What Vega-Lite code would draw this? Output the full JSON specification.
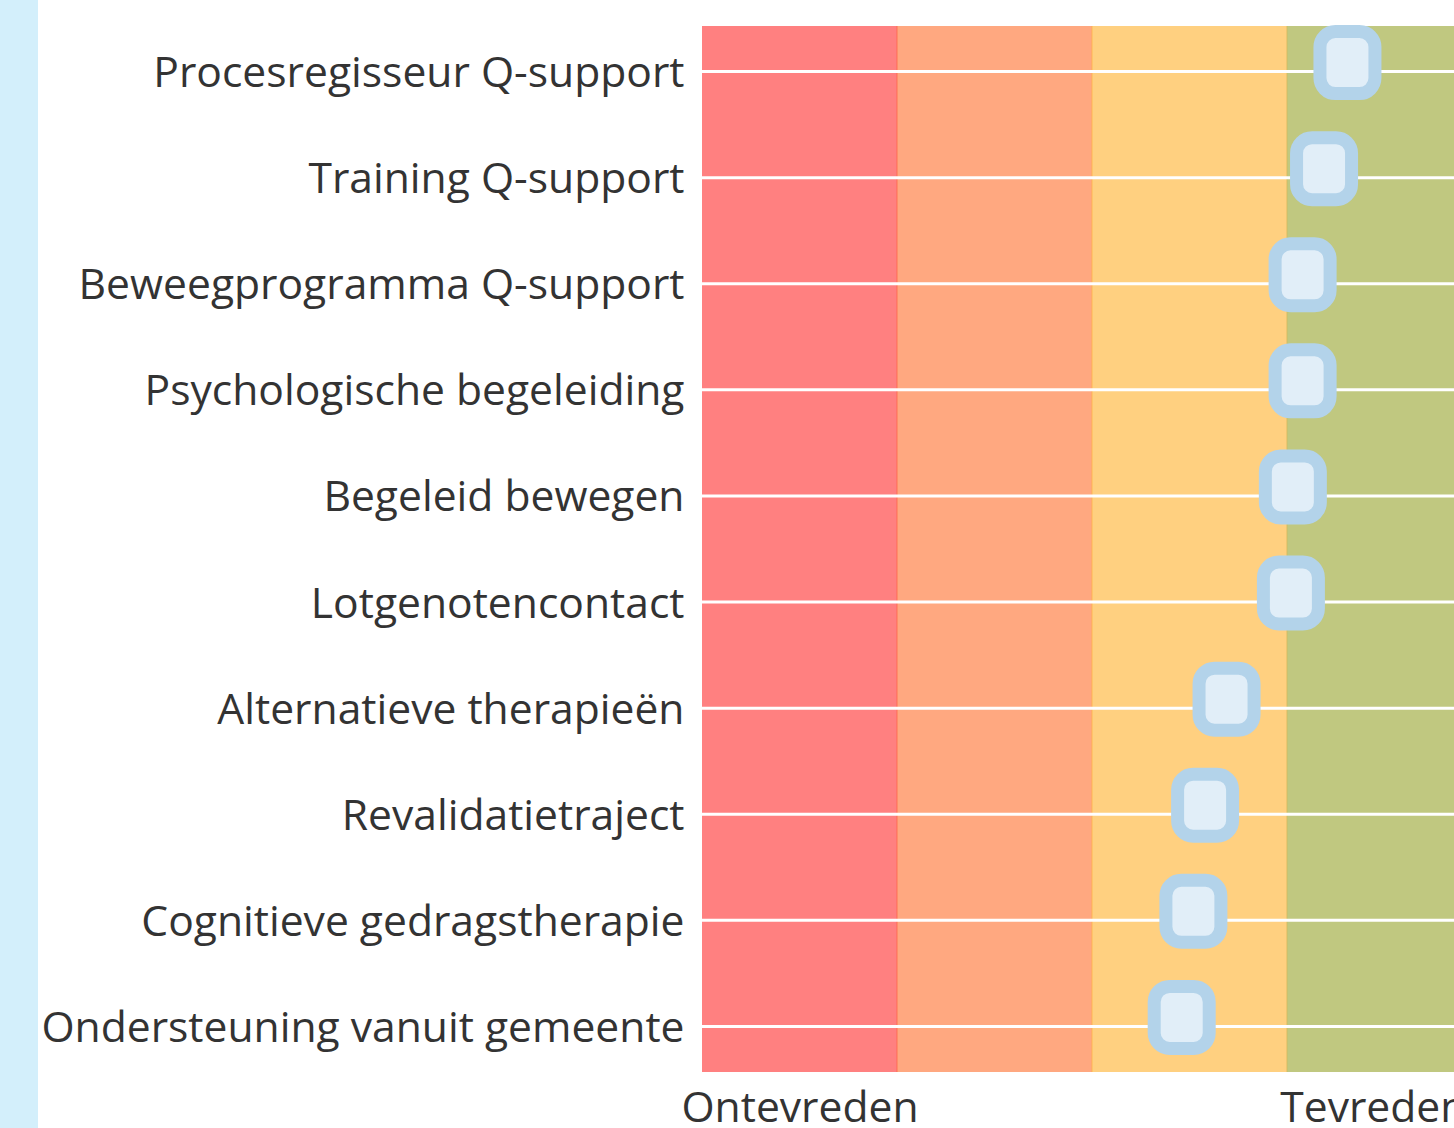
{
  "$schema": "https://vega.github.io/schema/vega-lite/v6.json",
  "padding": 0,
  "background": "white",
  "spacing": 2,
  "config": {"view": {"stroke": null}, "font": "Open Sans", "concat": {"spacing": 2}},
  "hconcat": [
    {
      "width": 38,
      "height": 1150,
      "data": {"values": [{"strip": "left"}]},
      "mark": {"type": "rect", "color": "#d3effb"},
      "encoding": {}
    },
    {
      "spacing": 4,
      "vconcat": [
        {
          "width": 1,
          "height": 1,
          "data": {"values": [{"spacer": "top"}]},
          "mark": {"type": "rect", "opacity": 0},
          "encoding": {}
        },
        {
          "width": 780,
          "height": 1046,
          "data": {
            "values": [
              {"item": "Procesregisseur Q-support", "score": 3.31},
              {"item": "Training Q-support", "score": 3.19},
              {"item": "Beweegprogramma Q-support", "score": 3.08},
              {"item": "Psychologische begeleiding", "score": 3.08},
              {"item": "Begeleid bewegen", "score": 3.03},
              {"item": "Lotgenotencontact", "score": 3.02},
              {"item": "Alternatieve therapieën", "score": 2.69},
              {"item": "Revalidatietraject", "score": 2.58},
              {"item": "Cognitieve gedragstherapie", "score": 2.52},
              {"item": "Ondersteuning vanuit gemeente", "score": 2.46}
            ]
          },
          "layer": [
            {
              "data": {
                "values": [
                  {"zone": "zeer ontevreden", "from": 0, "to": 1},
                  {"zone": "ontevreden", "from": 1, "to": 2},
                  {"zone": "neutraal", "from": 2, "to": 3},
                  {"zone": "tevreden", "from": 3, "to": 4}
                ]
              },
              "mark": {"type": "rect"},
              "encoding": {
                "x": {
                  "field": "from", "type": "quantitative",
                  "scale": {"domain": [0, 4], "nice": false, "zero": false},
                  "axis": {
                    "values": [0.5, 3.44],
                    "labelExpr": "datum.value < 2 ? 'Ontevreden' : 'Tevreden'",
                    "title": null, "domain": false, "ticks": false, "grid": false,
                    "labelFontSize": 42.6, "labelColor": "#333333", "labelPadding": 15,
                    "labelFlush": false, "labelFont": "Open Sans", "labelLimit": 1000,
                    "labelOverlap": false
                  }
                },
                "x2": {"field": "to"},
                "color": {
                  "field": "zone", "type": "nominal", "sort": null,
                  "scale": {
                    "domain": ["zeer ontevreden", "ontevreden", "neutraal", "tevreden"],
                    "range": ["#ff8080", "#ffa880", "#ffd080", "#c0c880"]
                  },
                  "legend": null
                }
              }
            },
            {
              "data": {
                "values": [
                  {"edge": "a", "at": 1},
                  {"edge": "b", "at": 2},
                  {"edge": "c", "at": 3}
                ]
              },
              "mark": {"type": "rule", "strokeWidth": 1, "opacity": 0.8},
              "encoding": {
                "x": {"field": "at", "type": "quantitative", "scale": {"domain": [0, 4], "nice": false, "zero": false}},
                "stroke": {
                  "field": "edge", "type": "nominal",
                  "scale": {"domain": ["a", "b", "c"], "range": ["#ff6446", "#ffb04a", "#d0b85a"]},
                  "legend": null
                }
              }
            },
            {
              "mark": {"type": "rule", "color": "white", "strokeWidth": 3},
              "encoding": {
                "y": {
                  "field": "item", "type": "nominal", "sort": null,
                  "scale": {"type": "point", "padding": 0.43},
                  "axis": {
                    "title": null, "domain": false, "ticks": false, "grid": false,
                    "labelFontSize": 42.6, "labelColor": "#333333", "labelPadding": 18,
                    "labelLimit": 1000, "labelFont": "Open Sans", "labelOffset": 2
                  }
                }
              }
            },
            {
              "mark": {
                "type": "point",
                "shape": "M -0.387 -1 L 0.387 -1 C 0.663 -1 0.887 -0.776 0.887 -0.5 L 0.887 0.5 C 0.887 0.776 0.663 1 0.387 1 L -0.387 1 C -0.663 1 -0.887 0.776 -0.887 0.5 L -0.887 -0.5 C -0.887 -0.776 -0.663 -1 -0.387 -1 Z",
                "size": 3844,
                "filled": true,
                "fill": "#e1eef8",
                "stroke": "#b3d3ea",
                "strokeWidth": 13,
                "opacity": 1,
                "yOffset": -9
              },
              "encoding": {
                "x": {"field": "score", "type": "quantitative", "scale": {"domain": [0, 4], "nice": false, "zero": false}},
                "y": {"field": "item", "type": "nominal", "sort": null}
              }
            }
          ]
        }
      ]
    }
  ]
}
